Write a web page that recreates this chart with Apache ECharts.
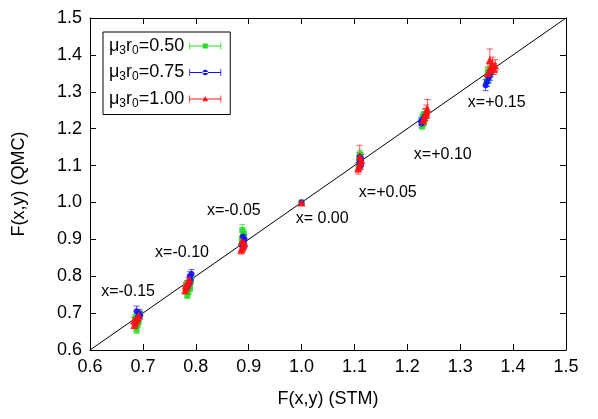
<!DOCTYPE html>
<html>
<head>
<meta charset="utf-8">
<script src="https://cdn.jsdelivr.net/npm/echarts@6.0.0/dist/echarts.min.js"></script>
<style>
  html, body { margin: 0; padding: 0; background: #fff; }
  #main { width: 598px; height: 419px; }
</style>
</head>
<body>
<div id="main"></div>
<script>
// [F(x,y) STM, F(x,y) QMC, error]
var mu050 = [
  [0.688,0.655,0.010],[0.690,0.668,0.008],[0.692,0.678,0.008],[0.686,0.688,0.009],[0.694,0.697,0.010],
  [0.784,0.748,0.008],[0.786,0.758,0.008],[0.789,0.768,0.009],[0.783,0.778,0.010],[0.791,0.790,0.010],
  [0.887,0.895,0.010],[0.889,0.905,0.012],[0.891,0.915,0.012],[0.888,0.925,0.015],[0.890,0.885,0.010],
  [1.000,1.000,0.000],
  [1.108,1.098,0.010],[1.110,1.106,0.010],[1.112,1.114,0.012],[1.109,1.122,0.012],[1.111,1.130,0.012],
  [1.228,1.208,0.010],[1.230,1.216,0.010],[1.232,1.224,0.012],[1.229,1.232,0.012],[1.233,1.240,0.012],
  [1.350,1.328,0.012],[1.353,1.336,0.012],[1.355,1.345,0.014],[1.352,1.354,0.014],[1.357,1.362,0.015]
];
var mu075 = [
  [0.689,0.682,0.010],[0.691,0.690,0.010],[0.693,0.698,0.012],[0.688,0.705,0.014],[0.695,0.694,0.010],
  [0.785,0.772,0.010],[0.787,0.782,0.010],[0.790,0.790,0.012],[0.789,0.800,0.012],[0.792,0.806,0.012],
  [0.888,0.880,0.010],[0.890,0.890,0.012],[0.892,0.900,0.012],[0.889,0.908,0.012],[0.891,0.895,0.010],
  [1.000,1.000,0.000],
  [1.109,1.105,0.010],[1.111,1.112,0.012],[1.113,1.118,0.012],[1.110,1.124,0.012],[1.112,1.100,0.010],
  [1.227,1.214,0.012],[1.229,1.222,0.012],[1.231,1.228,0.012],[1.233,1.234,0.012],[1.226,1.220,0.010],
  [1.348,1.318,0.015],[1.351,1.328,0.014],[1.354,1.338,0.014],[1.356,1.346,0.015],[1.358,1.352,0.012]
];
var mu100 = [
  [0.684,0.668,0.010],[0.686,0.675,0.010],[0.688,0.682,0.010],[0.690,0.688,0.012],[0.692,0.694,0.012],[0.683,0.680,0.008],
  [0.780,0.762,0.010],[0.782,0.770,0.010],[0.784,0.778,0.010],[0.786,0.785,0.012],[0.788,0.792,0.012],[0.781,0.775,0.008],
  [0.886,0.872,0.012],[0.888,0.878,0.012],[0.890,0.884,0.012],[0.892,0.890,0.012],[0.887,0.895,0.012],
  [1.000,1.000,0.000],
  [1.107,1.092,0.015],[1.109,1.100,0.014],[1.111,1.108,0.014],[1.113,1.116,0.015],[1.110,1.125,0.030],
  [1.230,1.222,0.014],[1.232,1.230,0.015],[1.234,1.238,0.015],[1.236,1.246,0.018],[1.238,1.254,0.025],[1.235,1.242,0.014],
  [1.352,1.350,0.015],[1.355,1.358,0.015],[1.358,1.366,0.018],[1.361,1.374,0.020],[1.364,1.362,0.015],[1.356,1.386,0.030],[1.366,1.372,0.015]
];
var seriesNames = ['0.50', '0.75', '1.00'];
var diagonal = [[0.6, 0.6], [1.5, 1.5]];
// text, anchor x, anchor y
var notes = [
  ['x=-0.15', 0.672, 0.757],
  ['x=-0.10', 0.774, 0.863],
  ['x=-0.05', 0.872, 0.977],
  ['x= 0.00', 1.039, 0.955],
  ['x=+0.05', 1.163, 1.026],
  ['x=+0.10', 1.267, 1.129],
  ['x=+0.15', 1.369, 1.270]
];

var colors = ['#22dd22', '#1010ff', '#ff1010'];
var symbols = ['rect', 'circle', 'triangle'];
var datasets = [mu050, mu075, mu100];

var font = 'Liberation Sans, Arial, sans-serif';

function errRender(params, api) {
  var x = api.value(0), y = api.value(1), e = api.value(2);
  if (!e) return null;
  var hi = api.coord([x, y + e]);
  var lo = api.coord([x, y - e]);
  var cap = 3;
  var st = { stroke: api.visual('color'), lineWidth: 1, opacity: 0.7 };
  return {
    type: 'group',
    children: [
      { type: 'line', shape: { x1: hi[0], y1: hi[1], x2: lo[0], y2: lo[1] }, style: st },
      { type: 'line', shape: { x1: hi[0] - cap, y1: hi[1], x2: hi[0] + cap, y2: hi[1] }, style: st },
      { type: 'line', shape: { x1: lo[0] - cap, y1: lo[1], x2: lo[0] + cap, y2: lo[1] }, style: st }
    ]
  };
}

var bar = 'M0,4.6h32v0.8h-32zM0,1.5h0.8v7h-0.8zM31.2,1.5h0.8v7h-0.8z';
var legendIcons = [
  'path://' + bar + 'M13.5,2.5h5v5h-5z',
  'path://' + bar + 'M16,2.3a2.7,2.7 0 1,0 0.01,0z',
  'path://' + bar + 'M16,2.2L18.8,7.2L13.2,7.2z'
];

var series = [];
datasets.forEach(function (d, i) {
  series.push({
    name: seriesNames[i],
    type: 'custom',
    renderItem: errRender,
    itemStyle: { color: colors[i] },
    data: d,
    z: 2
  });
  series.push({
    name: seriesNames[i],
    type: 'scatter',
    symbol: symbols[i],
    symbolSize: i === 2 ? 8 : 6,
    itemStyle: { color: colors[i], opacity: 0.9 },
    data: d.map(function (p) { return [p[0], p[1]]; }),
    z: 3
  });
});
series.push({
  name: 'diag',
  type: 'line',
  data: diagonal,
  symbol: 'none',
  lineStyle: { color: '#000', width: 1 },
  silent: true,
  z: 1
});
series.push({
  name: 'notes',
  type: 'scatter',
  symbolSize: 0,
  data: notes.map(function (n) { return { value: [n[1], n[2]], name: n[0] }; }),
  label: {
    show: true,
    position: 'inside',
    formatter: '{b}',
    color: '#000',
    opacity: 1,
    fontSize: 16,
    fontFamily: font
  },
  itemStyle: { opacity: 1 },
  silent: true,
  z: 4
});

var axisCommon = {
  min: 0.6,
  max: 1.5,
  interval: 0.1,
  axisLine: { lineStyle: { color: '#000', width: 1 } },
  axisTick: { inside: true, length: 6, lineStyle: { color: '#000' } },
  splitLine: { show: false },
  axisLabel: {
    color: '#000',
    fontSize: 18,
    fontFamily: font,
    formatter: function (v) { return v.toFixed(1); }
  }
};

var myChart = echarts.init(document.getElementById('main'));
var option = {
  backgroundColor: '#fff',
  animation: false,
  grid: { left: 90, right: 32, top: 18, bottom: 69 },
  legend: {
    orient: 'vertical',
    left: 103,
    top: 32,
    align: 'right',
    borderColor: '#000',
    borderWidth: 1,
    padding: [5, 9, 5, 6],
    itemGap: 7,
    itemWidth: 32,
    itemHeight: 10,
    data: seriesNames.map(function (n, i) {
      return { name: n, icon: legendIcons[i], itemStyle: { color: colors[i] } };
    }),
    formatter: function (n) {
      return '{m|μ}{s|3}{m|r}{s|0}{m|=' + n + '}';
    },
    textStyle: {
      color: '#000',
      fontFamily: font,
      rich: {
        m: { fontSize: 18, fontFamily: font, color: '#000' },
        s: { fontSize: 12, fontFamily: font, color: '#000', padding: [9, 0, 0, 0] }
      }
    }
  },
  xAxis: [
    Object.assign({}, axisCommon, {
      type: 'value',
      name: 'F(x,y) (STM)',
      nameLocation: 'middle',
      nameGap: 40,
      nameTextStyle: { color: '#000', fontSize: 18, fontFamily: font }
    }),
    Object.assign({}, axisCommon, {
      type: 'value',
      position: 'top',
      axisLabel: { show: false }
    })
  ],
  yAxis: [
    Object.assign({}, axisCommon, {
      type: 'value',
      name: 'F(x,y) (QMC)',
      nameLocation: 'middle',
      nameGap: 62,
      nameTextStyle: { color: '#000', fontSize: 18, fontFamily: font }
    }),
    Object.assign({}, axisCommon, {
      type: 'value',
      position: 'right',
      axisLabel: { show: false }
    })
  ],
  series: series
};
myChart.setOption(option);
</script>
</body>
</html>
